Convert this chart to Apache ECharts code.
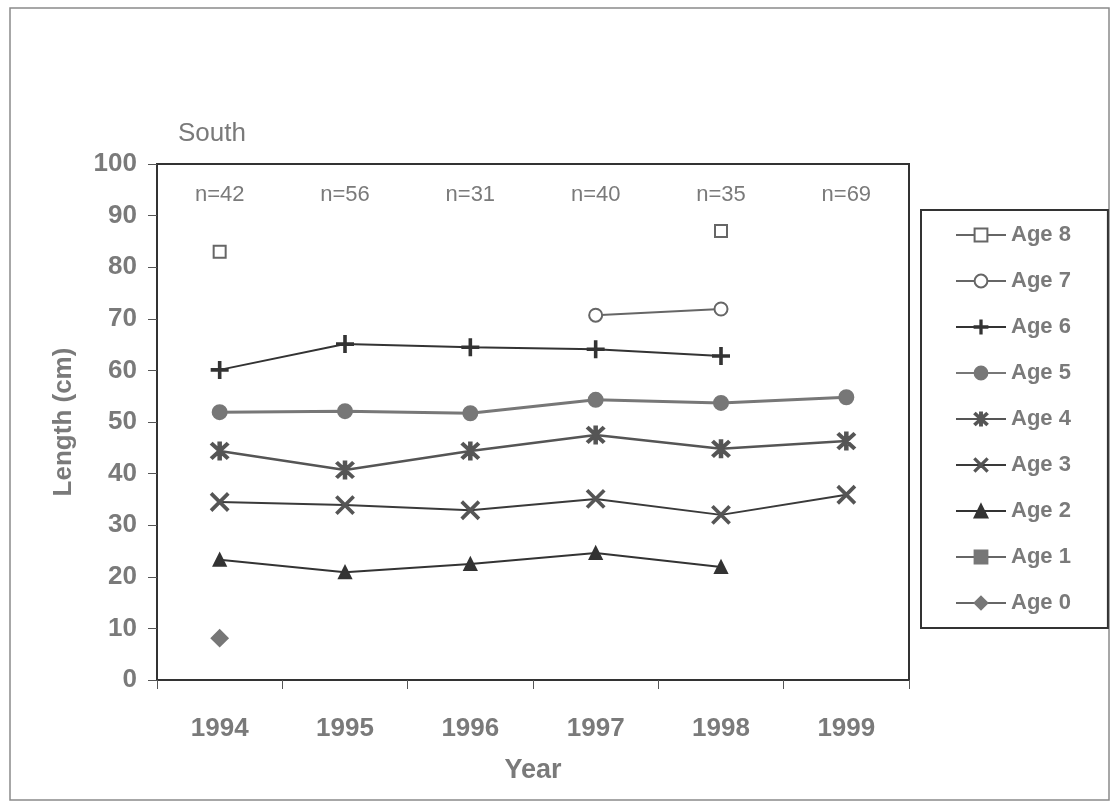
<!DOCTYPE html>
<html>
<head>
<meta charset="utf-8">
<script src="https://cdn.jsdelivr.net/npm/echarts@6/dist/echarts.min.js"></script>
<style>
  html, body { margin: 0; padding: 0; background: #fff; }
  #chart { width: 1116px; height: 804px; }
</style>
</head>
<body>
<div id="chart"></div>
<script>
// 年份与样本数
var years = ['1994', '1995', '1996', '1997', '1998', '1999'];
var nLabels = ['n=42', 'n=56', 'n=31', 'n=40', 'n=35', 'n=69'];

// 各年龄组平均体长 (cm)，'-' 表示无数据
var age8 = [83, '-', '-', '-', 87, '-'];
var age7 = ['-', '-', '-', 70.7, 71.9, '-'];
var age6 = [60.1, 65.1, 64.5, 64.1, 62.8, '-'];
var age5 = [51.9, 52.1, 51.7, 54.3, 53.7, 54.8];
var age4 = [44.4, 40.7, 44.4, 47.5, 44.8, 46.3];
var age3 = [34.5, 33.9, 32.9, 35.1, 32.0, 35.9];
var age2 = [23.3, 20.9, 22.5, 24.6, 21.9, '-'];
var age1 = ['-', '-', '-', '-', '-', '-'];
var age0 = [8.1, '-', '-', '-', '-', '-'];

var legendNames = ['Age 8', 'Age 7', 'Age 6', 'Age 5', 'Age 4', 'Age 3', 'Age 2', 'Age 1', 'Age 0'];

var FONT = 'Liberation Sans, Arial, sans-serif';
var GREY = '#7a7a7a';

// 自定义符号
var plusPath = 'path://M-1,-10 L1,-10 L1,10 L-1,10 Z M-10,-1 L10,-1 L10,1 L-10,1 Z';
var crossPath = 'path://M-10,-8.6 L-8.6,-10 L10,8.6 L8.6,10 Z M8.6,-10 L10,-8.6 L-8.6,10 L-10,8.6 Z';
var starPath = 'path://M-10,-8.3 L-8.3,-10 L10,8.3 L8.3,10 Z M8.3,-10 L10,-8.3 L-8.3,10 L-10,8.3 Z M-1.5,-11 L1.5,-11 L1.5,11 L-1.5,11 Z';

function lineSeries(name, data, symbol, size, lineColor, symColor, width) {
    return {
        name: name,
        type: 'line',
        data: data,
        symbol: symbol,
        symbolSize: size,
        connectNulls: false,
        lineStyle: { color: lineColor, width: width || 2 },
        itemStyle: { color: symColor, borderColor: symColor, borderWidth: 2 },
        emphasis: { disabled: true }
    };
}

var option = {
    animation: false,
    textStyle: { fontFamily: FONT },
    graphic: [
        {
            type: 'rect',
            shape: { x: 10, y: 8, width: 1099, height: 792 },
            style: { fill: 'none', stroke: '#8a8a8a', lineWidth: 1.5 }
        },
        {
            type: 'text',
            left: 178,
            top: 121,
            style: { text: 'South', fontSize: 26, fontFamily: FONT, fill: GREY }
        }
    ],
    grid: {
        left: 157,
        top: 164,
        right: 207,
        bottom: 124,
        show: true,
        borderColor: '#333',
        borderWidth: 2
    },
    legend: {
        orient: 'vertical',
        left: 921,
        top: 210,
        data: legendNames,
        itemWidth: 50,
        itemHeight: 16,
        itemGap: 24,
        padding: [14, 37, 14, 34],
        borderColor: '#333',
        borderWidth: 2,
        textStyle: { fontSize: 22, fontWeight: 'bold', color: GREY, fontFamily: FONT }
    },
    xAxis: [
        {
            type: 'category',
            data: years,
            boundaryGap: true,
            name: 'Year',
            nameLocation: 'middle',
            nameGap: 77,
            nameTextStyle: { fontSize: 27, fontWeight: 'bold', color: GREY },
            axisLine: { lineStyle: { color: '#333', width: 2 } },
            axisTick: { show: true, length: 9, lineStyle: { color: '#555' } },
            axisLabel: { fontSize: 26, fontWeight: 'bold', color: GREY, margin: 36 }
        },
        {
            type: 'category',
            data: nLabels,
            position: 'top',
            boundaryGap: true,
            axisLine: { show: false },
            axisTick: { show: false },
            axisLabel: { inside: true, margin: 20, fontSize: 22, color: GREY }
        }
    ],
    yAxis: {
        type: 'value',
        min: 0,
        max: 100,
        interval: 10,
        name: 'Length (cm)',
        nameLocation: 'middle',
        nameGap: 80,
        nameTextStyle: { fontSize: 26, fontWeight: 'bold', color: GREY },
        axisLine: { show: true, lineStyle: { color: '#333', width: 2 } },
        axisTick: { show: true, length: 9, lineStyle: { color: '#555' } },
        axisLabel: { fontSize: 26, fontWeight: 'bold', color: GREY, margin: 20 },
        splitLine: { show: false }
    },
    series: [
        lineSeries('Age 8', age8, 'emptyRect', 12, '#666', '#666', 2),
        lineSeries('Age 7', age7, 'emptyCircle', 13, '#666', '#666', 2),
        lineSeries('Age 6', age6, plusPath, 16, '#333', '#333', 2),
        lineSeries('Age 5', age5, 'circle', 14, '#777', '#777', 3),
        lineSeries('Age 4', age4, starPath, 17, '#555', '#555', 2.5),
        lineSeries('Age 3', age3, crossPath, 17, '#3a3a3a', '#555', 2),
        lineSeries('Age 2', age2, 'triangle', 12, '#333', '#333', 2),
        lineSeries('Age 1', age1, 'rect', 12, '#666', '#777', 2),
        lineSeries('Age 0', age0, 'diamond', 16, '#666', '#777', 2)
    ]
};

var myChart = echarts.init(document.getElementById('chart'));
myChart.setOption(option);
</script>
</body>
</html>
